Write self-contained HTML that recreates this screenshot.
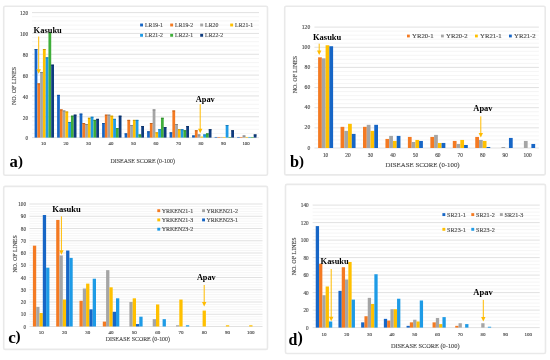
<!DOCTYPE html>
<html><head><meta charset="utf-8"><title>Disease score charts</title>
<style>
html,body{margin:0;padding:0;background:#fff;}
body{width:550px;height:360px;overflow:hidden;}
svg{display:block;font-family:"Liberation Serif",serif;filter:blur(0.3px);}
text.t{stroke:#4a4a4a;stroke-width:0.14px;}
</style></head><body>
<svg width="550" height="360" viewBox="0 0 550 360">
<rect width="550" height="360" fill="#fff"/>
<rect x="3.7" y="6.2" width="263.8" height="169.1" fill="#fff" stroke="#e9e9e9" stroke-width="1.6" rx="1.5"/>
<rect x="284.7" y="6.2" width="260.5" height="168.7" fill="#fff" stroke="#e9e9e9" stroke-width="1.6" rx="1.5"/>
<rect x="3.7" y="186.4" width="263.8" height="163" fill="#fff" stroke="#e9e9e9" stroke-width="1.6" rx="1.5"/>
<rect x="285.5" y="184.4" width="260" height="169.1" fill="#fff" stroke="#e9e9e9" stroke-width="1.6" rx="1.5"/>
<line x1="32" y1="133.43" x2="259" y2="133.43" stroke="#f3f3f3" stroke-width="0.8"/>
<line x1="32" y1="129.27" x2="259" y2="129.27" stroke="#f3f3f3" stroke-width="0.8"/>
<line x1="32" y1="125.1" x2="259" y2="125.1" stroke="#f3f3f3" stroke-width="0.8"/>
<line x1="32" y1="120.93" x2="259" y2="120.93" stroke="#f3f3f3" stroke-width="0.8"/>
<line x1="32" y1="112.6" x2="259" y2="112.6" stroke="#f3f3f3" stroke-width="0.8"/>
<line x1="32" y1="108.43" x2="259" y2="108.43" stroke="#f3f3f3" stroke-width="0.8"/>
<line x1="32" y1="104.27" x2="259" y2="104.27" stroke="#f3f3f3" stroke-width="0.8"/>
<line x1="32" y1="100.1" x2="259" y2="100.1" stroke="#f3f3f3" stroke-width="0.8"/>
<line x1="32" y1="91.77" x2="259" y2="91.77" stroke="#f3f3f3" stroke-width="0.8"/>
<line x1="32" y1="87.6" x2="259" y2="87.6" stroke="#f3f3f3" stroke-width="0.8"/>
<line x1="32" y1="83.43" x2="259" y2="83.43" stroke="#f3f3f3" stroke-width="0.8"/>
<line x1="32" y1="79.26" x2="259" y2="79.26" stroke="#f3f3f3" stroke-width="0.8"/>
<line x1="32" y1="70.93" x2="259" y2="70.93" stroke="#f3f3f3" stroke-width="0.8"/>
<line x1="32" y1="66.76" x2="259" y2="66.76" stroke="#f3f3f3" stroke-width="0.8"/>
<line x1="32" y1="62.6" x2="259" y2="62.6" stroke="#f3f3f3" stroke-width="0.8"/>
<line x1="32" y1="58.43" x2="259" y2="58.43" stroke="#f3f3f3" stroke-width="0.8"/>
<line x1="32" y1="50.1" x2="259" y2="50.1" stroke="#f3f3f3" stroke-width="0.8"/>
<line x1="32" y1="45.93" x2="259" y2="45.93" stroke="#f3f3f3" stroke-width="0.8"/>
<line x1="32" y1="41.76" x2="259" y2="41.76" stroke="#f3f3f3" stroke-width="0.8"/>
<line x1="32" y1="37.6" x2="259" y2="37.6" stroke="#f3f3f3" stroke-width="0.8"/>
<line x1="32" y1="29.26" x2="259" y2="29.26" stroke="#f3f3f3" stroke-width="0.8"/>
<line x1="32" y1="25.1" x2="259" y2="25.1" stroke="#f3f3f3" stroke-width="0.8"/>
<line x1="32" y1="20.93" x2="259" y2="20.93" stroke="#f3f3f3" stroke-width="0.8"/>
<line x1="32" y1="16.76" x2="259" y2="16.76" stroke="#f3f3f3" stroke-width="0.8"/>
<line x1="32" y1="137.6" x2="259" y2="137.6" stroke="#d9d9d9" stroke-width="0.8"/>
<line x1="32" y1="116.77" x2="259" y2="116.77" stroke="#d9d9d9" stroke-width="0.8"/>
<line x1="32" y1="95.93" x2="259" y2="95.93" stroke="#d9d9d9" stroke-width="0.8"/>
<line x1="32" y1="75.1" x2="259" y2="75.1" stroke="#d9d9d9" stroke-width="0.8"/>
<line x1="32" y1="54.26" x2="259" y2="54.26" stroke="#d9d9d9" stroke-width="0.8"/>
<line x1="32" y1="33.43" x2="259" y2="33.43" stroke="#d9d9d9" stroke-width="0.8"/>
<line x1="32" y1="12.6" x2="259" y2="12.6" stroke="#d9d9d9" stroke-width="0.8"/>
<rect x="34.6" y="49.06" width="2.77" height="88.54" fill="#1766c6"/>
<rect x="34.6" y="49.06" width="2.77" height="0.9" fill="#114f9a"/>
<rect x="57.1" y="94.89" width="2.77" height="42.71" fill="#1766c6"/>
<rect x="57.1" y="94.89" width="2.77" height="0.9" fill="#114f9a"/>
<rect x="79.6" y="113.64" width="2.77" height="23.96" fill="#1766c6"/>
<rect x="79.6" y="113.64" width="2.77" height="0.9" fill="#114f9a"/>
<rect x="102.1" y="123.02" width="2.77" height="14.58" fill="#1766c6"/>
<rect x="102.1" y="123.02" width="2.77" height="0.9" fill="#114f9a"/>
<rect x="124.61" y="133.43" width="2.77" height="4.17" fill="#1766c6"/>
<rect x="124.61" y="133.43" width="2.77" height="0.9" fill="#114f9a"/>
<rect x="147.11" y="131.35" width="2.77" height="6.25" fill="#1766c6"/>
<rect x="147.11" y="131.35" width="2.77" height="0.9" fill="#114f9a"/>
<rect x="169.61" y="132.39" width="2.77" height="5.21" fill="#1766c6"/>
<rect x="169.61" y="132.39" width="2.77" height="0.9" fill="#114f9a"/>
<rect x="192.11" y="135.52" width="2.77" height="2.08" fill="#1766c6"/>
<rect x="192.11" y="135.52" width="2.77" height="0.9" fill="#114f9a"/>
<rect x="214.61" y="136.97" width="2.77" height="0.63" fill="#1766c6"/>
<rect x="237.11" y="136.97" width="2.77" height="0.63" fill="#1766c6"/>
<rect x="37.38" y="83.43" width="2.77" height="54.17" fill="#f47a22"/>
<rect x="37.38" y="83.43" width="2.77" height="0.9" fill="#be5f1a"/>
<rect x="59.88" y="109.47" width="2.77" height="28.13" fill="#f47a22"/>
<rect x="59.88" y="109.47" width="2.77" height="0.9" fill="#be5f1a"/>
<rect x="82.37" y="123.02" width="2.77" height="14.58" fill="#f47a22"/>
<rect x="82.37" y="123.02" width="2.77" height="0.9" fill="#be5f1a"/>
<rect x="104.87" y="114.68" width="2.77" height="22.92" fill="#f47a22"/>
<rect x="104.87" y="114.68" width="2.77" height="0.9" fill="#be5f1a"/>
<rect x="127.38" y="119.89" width="2.77" height="17.71" fill="#f47a22"/>
<rect x="127.38" y="119.89" width="2.77" height="0.9" fill="#be5f1a"/>
<rect x="149.88" y="123.02" width="2.77" height="14.58" fill="#f47a22"/>
<rect x="149.88" y="123.02" width="2.77" height="0.9" fill="#be5f1a"/>
<rect x="172.38" y="110.52" width="2.77" height="27.08" fill="#f47a22"/>
<rect x="172.38" y="110.52" width="2.77" height="0.9" fill="#be5f1a"/>
<rect x="194.88" y="130.31" width="2.77" height="7.29" fill="#f47a22"/>
<rect x="194.88" y="130.31" width="2.77" height="0.9" fill="#be5f1a"/>
<rect x="217.38" y="136.97" width="2.77" height="0.63" fill="#f47a22"/>
<rect x="239.88" y="136.97" width="2.77" height="0.63" fill="#f47a22"/>
<rect x="40.14" y="71.97" width="2.77" height="65.63" fill="#a5a5a5"/>
<rect x="40.14" y="71.97" width="2.77" height="0.9" fill="#808080"/>
<rect x="62.64" y="110.52" width="2.77" height="27.08" fill="#a5a5a5"/>
<rect x="62.64" y="110.52" width="2.77" height="0.9" fill="#808080"/>
<rect x="85.14" y="124.06" width="2.77" height="13.54" fill="#a5a5a5"/>
<rect x="85.14" y="124.06" width="2.77" height="0.9" fill="#808080"/>
<rect x="107.64" y="114.68" width="2.77" height="22.92" fill="#a5a5a5"/>
<rect x="107.64" y="114.68" width="2.77" height="0.9" fill="#808080"/>
<rect x="130.15" y="125.1" width="2.77" height="12.5" fill="#a5a5a5"/>
<rect x="130.15" y="125.1" width="2.77" height="0.9" fill="#808080"/>
<rect x="152.65" y="109.47" width="2.77" height="28.13" fill="#a5a5a5"/>
<rect x="152.65" y="109.47" width="2.77" height="0.9" fill="#808080"/>
<rect x="175.15" y="124.06" width="2.77" height="13.54" fill="#a5a5a5"/>
<rect x="175.15" y="124.06" width="2.77" height="0.9" fill="#808080"/>
<rect x="197.65" y="134.47" width="2.77" height="3.13" fill="#a5a5a5"/>
<rect x="197.65" y="134.47" width="2.77" height="0.9" fill="#808080"/>
<rect x="220.15" y="136.97" width="2.77" height="0.63" fill="#a5a5a5"/>
<rect x="242.65" y="135.52" width="2.77" height="2.08" fill="#a5a5a5"/>
<rect x="242.65" y="135.52" width="2.77" height="0.9" fill="#808080"/>
<rect x="42.91" y="49.06" width="2.77" height="88.54" fill="#ffc000"/>
<rect x="42.91" y="49.06" width="2.77" height="0.9" fill="#c69500"/>
<rect x="65.41" y="111.56" width="2.77" height="26.04" fill="#ffc000"/>
<rect x="65.41" y="111.56" width="2.77" height="0.9" fill="#c69500"/>
<rect x="87.91" y="117.81" width="2.77" height="19.79" fill="#ffc000"/>
<rect x="87.91" y="117.81" width="2.77" height="0.9" fill="#c69500"/>
<rect x="110.41" y="115.72" width="2.77" height="21.88" fill="#ffc000"/>
<rect x="110.41" y="115.72" width="2.77" height="0.9" fill="#c69500"/>
<rect x="132.92" y="119.89" width="2.77" height="17.71" fill="#ffc000"/>
<rect x="132.92" y="119.89" width="2.77" height="0.9" fill="#c69500"/>
<rect x="155.42" y="132.39" width="2.77" height="5.21" fill="#ffc000"/>
<rect x="155.42" y="132.39" width="2.77" height="0.9" fill="#c69500"/>
<rect x="177.92" y="129.27" width="2.77" height="8.33" fill="#ffc000"/>
<rect x="177.92" y="129.27" width="2.77" height="0.9" fill="#c69500"/>
<rect x="200.42" y="136.56" width="2.77" height="1.04" fill="#ffc000"/>
<rect x="222.92" y="136.97" width="2.77" height="0.63" fill="#ffc000"/>
<rect x="245.42" y="136.97" width="2.77" height="0.63" fill="#ffc000"/>
<rect x="45.68" y="57.39" width="2.77" height="80.21" fill="#1e9be6"/>
<rect x="45.68" y="57.39" width="2.77" height="0.9" fill="#1778b3"/>
<rect x="68.19" y="121.97" width="2.77" height="15.63" fill="#1e9be6"/>
<rect x="68.19" y="121.97" width="2.77" height="0.9" fill="#1778b3"/>
<rect x="90.68" y="116.77" width="2.77" height="20.83" fill="#1e9be6"/>
<rect x="90.68" y="116.77" width="2.77" height="0.9" fill="#1778b3"/>
<rect x="113.18" y="118.85" width="2.77" height="18.75" fill="#1e9be6"/>
<rect x="113.18" y="118.85" width="2.77" height="0.9" fill="#1778b3"/>
<rect x="135.69" y="119.89" width="2.77" height="17.71" fill="#1e9be6"/>
<rect x="135.69" y="119.89" width="2.77" height="0.9" fill="#1778b3"/>
<rect x="158.19" y="129.27" width="2.77" height="8.33" fill="#1e9be6"/>
<rect x="158.19" y="129.27" width="2.77" height="0.9" fill="#1778b3"/>
<rect x="180.69" y="129.27" width="2.77" height="8.33" fill="#1e9be6"/>
<rect x="180.69" y="129.27" width="2.77" height="0.9" fill="#1778b3"/>
<rect x="203.19" y="134.47" width="2.77" height="3.13" fill="#1e9be6"/>
<rect x="203.19" y="134.47" width="2.77" height="0.9" fill="#1778b3"/>
<rect x="225.69" y="125.1" width="2.77" height="12.5" fill="#1e9be6"/>
<rect x="225.69" y="125.1" width="2.77" height="0.9" fill="#1778b3"/>
<rect x="248.19" y="136.97" width="2.77" height="0.63" fill="#1e9be6"/>
<rect x="48.45" y="32.39" width="2.77" height="105.21" fill="#3fae3a"/>
<rect x="48.45" y="32.39" width="2.77" height="0.9" fill="#31872d"/>
<rect x="70.95" y="115.72" width="2.77" height="21.88" fill="#3fae3a"/>
<rect x="70.95" y="115.72" width="2.77" height="0.9" fill="#31872d"/>
<rect x="93.45" y="119.89" width="2.77" height="17.71" fill="#3fae3a"/>
<rect x="93.45" y="119.89" width="2.77" height="0.9" fill="#31872d"/>
<rect x="115.95" y="128.22" width="2.77" height="9.38" fill="#3fae3a"/>
<rect x="115.95" y="128.22" width="2.77" height="0.9" fill="#31872d"/>
<rect x="138.46" y="134.47" width="2.77" height="3.13" fill="#3fae3a"/>
<rect x="138.46" y="134.47" width="2.77" height="0.9" fill="#31872d"/>
<rect x="160.96" y="117.81" width="2.77" height="19.79" fill="#3fae3a"/>
<rect x="160.96" y="117.81" width="2.77" height="0.9" fill="#31872d"/>
<rect x="183.46" y="130.31" width="2.77" height="7.29" fill="#3fae3a"/>
<rect x="183.46" y="130.31" width="2.77" height="0.9" fill="#31872d"/>
<rect x="205.96" y="133.43" width="2.77" height="4.17" fill="#3fae3a"/>
<rect x="205.96" y="133.43" width="2.77" height="0.9" fill="#31872d"/>
<rect x="228.46" y="136.97" width="2.77" height="0.63" fill="#3fae3a"/>
<rect x="250.96" y="136.97" width="2.77" height="0.63" fill="#3fae3a"/>
<rect x="51.22" y="64.68" width="2.77" height="72.92" fill="#0e3b7e"/>
<rect x="51.22" y="64.68" width="2.77" height="0.9" fill="#0a2e62"/>
<rect x="73.72" y="114.68" width="2.77" height="22.92" fill="#0e3b7e"/>
<rect x="73.72" y="114.68" width="2.77" height="0.9" fill="#0a2e62"/>
<rect x="96.22" y="118.85" width="2.77" height="18.75" fill="#0e3b7e"/>
<rect x="96.22" y="118.85" width="2.77" height="0.9" fill="#0a2e62"/>
<rect x="118.72" y="115.72" width="2.77" height="21.88" fill="#0e3b7e"/>
<rect x="118.72" y="115.72" width="2.77" height="0.9" fill="#0a2e62"/>
<rect x="141.23" y="126.14" width="2.77" height="11.46" fill="#0e3b7e"/>
<rect x="141.23" y="126.14" width="2.77" height="0.9" fill="#0a2e62"/>
<rect x="163.73" y="127.18" width="2.77" height="10.42" fill="#0e3b7e"/>
<rect x="163.73" y="127.18" width="2.77" height="0.9" fill="#0a2e62"/>
<rect x="186.23" y="126.14" width="2.77" height="11.46" fill="#0e3b7e"/>
<rect x="186.23" y="126.14" width="2.77" height="0.9" fill="#0a2e62"/>
<rect x="208.73" y="129.27" width="2.77" height="8.33" fill="#0e3b7e"/>
<rect x="208.73" y="129.27" width="2.77" height="0.9" fill="#0a2e62"/>
<rect x="231.23" y="130.31" width="2.77" height="7.29" fill="#0e3b7e"/>
<rect x="231.23" y="130.31" width="2.77" height="0.9" fill="#0a2e62"/>
<rect x="253.73" y="134.47" width="2.77" height="3.13" fill="#0e3b7e"/>
<rect x="253.73" y="134.47" width="2.77" height="0.9" fill="#0a2e62"/>
<text class="t" x="28.1" y="140.44" font-size="5.4" text-anchor="end" fill="#4a4a4a">0</text>
<text class="t" x="28.1" y="119.6" font-size="5.4" text-anchor="end" fill="#4a4a4a">20</text>
<text class="t" x="28.1" y="98.77" font-size="5.4" text-anchor="end" fill="#4a4a4a">40</text>
<text class="t" x="28.1" y="77.93" font-size="5.4" text-anchor="end" fill="#4a4a4a">60</text>
<text class="t" x="28.1" y="57.1" font-size="5.4" text-anchor="end" fill="#4a4a4a">80</text>
<text class="t" x="28.1" y="36.27" font-size="5.4" text-anchor="end" fill="#4a4a4a">100</text>
<text class="t" x="28.1" y="15.43" font-size="5.4" text-anchor="end" fill="#4a4a4a">120</text>
<text class="t" x="43.5" y="145.1" font-size="4.8" text-anchor="middle" fill="#4a4a4a">10</text>
<text class="t" x="66" y="145.1" font-size="4.8" text-anchor="middle" fill="#4a4a4a">20</text>
<text class="t" x="88.5" y="145.1" font-size="4.8" text-anchor="middle" fill="#4a4a4a">30</text>
<text class="t" x="111" y="145.1" font-size="4.8" text-anchor="middle" fill="#4a4a4a">40</text>
<text class="t" x="133.5" y="145.1" font-size="4.8" text-anchor="middle" fill="#4a4a4a">50</text>
<text class="t" x="156" y="145.1" font-size="4.8" text-anchor="middle" fill="#4a4a4a">60</text>
<text class="t" x="178.5" y="145.1" font-size="4.8" text-anchor="middle" fill="#4a4a4a">70</text>
<text class="t" x="201" y="145.1" font-size="4.8" text-anchor="middle" fill="#4a4a4a">80</text>
<text class="t" x="223.5" y="145.1" font-size="4.8" text-anchor="middle" fill="#4a4a4a">90</text>
<text class="t" x="246" y="145.1" font-size="4.8" text-anchor="middle" fill="#4a4a4a">100</text>
<line x1="314.4" y1="143.97" x2="538.9" y2="143.97" stroke="#f3f3f3" stroke-width="0.8"/>
<line x1="314.4" y1="139.94" x2="538.9" y2="139.94" stroke="#f3f3f3" stroke-width="0.8"/>
<line x1="314.4" y1="135.91" x2="538.9" y2="135.91" stroke="#f3f3f3" stroke-width="0.8"/>
<line x1="314.4" y1="131.88" x2="538.9" y2="131.88" stroke="#f3f3f3" stroke-width="0.8"/>
<line x1="314.4" y1="123.82" x2="538.9" y2="123.82" stroke="#f3f3f3" stroke-width="0.8"/>
<line x1="314.4" y1="119.79" x2="538.9" y2="119.79" stroke="#f3f3f3" stroke-width="0.8"/>
<line x1="314.4" y1="115.76" x2="538.9" y2="115.76" stroke="#f3f3f3" stroke-width="0.8"/>
<line x1="314.4" y1="111.73" x2="538.9" y2="111.73" stroke="#f3f3f3" stroke-width="0.8"/>
<line x1="314.4" y1="103.67" x2="538.9" y2="103.67" stroke="#f3f3f3" stroke-width="0.8"/>
<line x1="314.4" y1="99.64" x2="538.9" y2="99.64" stroke="#f3f3f3" stroke-width="0.8"/>
<line x1="314.4" y1="95.61" x2="538.9" y2="95.61" stroke="#f3f3f3" stroke-width="0.8"/>
<line x1="314.4" y1="91.58" x2="538.9" y2="91.58" stroke="#f3f3f3" stroke-width="0.8"/>
<line x1="314.4" y1="83.52" x2="538.9" y2="83.52" stroke="#f3f3f3" stroke-width="0.8"/>
<line x1="314.4" y1="79.49" x2="538.9" y2="79.49" stroke="#f3f3f3" stroke-width="0.8"/>
<line x1="314.4" y1="75.46" x2="538.9" y2="75.46" stroke="#f3f3f3" stroke-width="0.8"/>
<line x1="314.4" y1="71.43" x2="538.9" y2="71.43" stroke="#f3f3f3" stroke-width="0.8"/>
<line x1="314.4" y1="63.37" x2="538.9" y2="63.37" stroke="#f3f3f3" stroke-width="0.8"/>
<line x1="314.4" y1="59.34" x2="538.9" y2="59.34" stroke="#f3f3f3" stroke-width="0.8"/>
<line x1="314.4" y1="55.31" x2="538.9" y2="55.31" stroke="#f3f3f3" stroke-width="0.8"/>
<line x1="314.4" y1="51.28" x2="538.9" y2="51.28" stroke="#f3f3f3" stroke-width="0.8"/>
<line x1="314.4" y1="43.22" x2="538.9" y2="43.22" stroke="#f3f3f3" stroke-width="0.8"/>
<line x1="314.4" y1="39.19" x2="538.9" y2="39.19" stroke="#f3f3f3" stroke-width="0.8"/>
<line x1="314.4" y1="35.16" x2="538.9" y2="35.16" stroke="#f3f3f3" stroke-width="0.8"/>
<line x1="314.4" y1="31.13" x2="538.9" y2="31.13" stroke="#f3f3f3" stroke-width="0.8"/>
<line x1="314.4" y1="148" x2="538.9" y2="148" stroke="#d9d9d9" stroke-width="0.8"/>
<line x1="314.4" y1="127.85" x2="538.9" y2="127.85" stroke="#d9d9d9" stroke-width="0.8"/>
<line x1="314.4" y1="107.7" x2="538.9" y2="107.7" stroke="#d9d9d9" stroke-width="0.8"/>
<line x1="314.4" y1="87.55" x2="538.9" y2="87.55" stroke="#d9d9d9" stroke-width="0.8"/>
<line x1="314.4" y1="67.4" x2="538.9" y2="67.4" stroke="#d9d9d9" stroke-width="0.8"/>
<line x1="314.4" y1="47.25" x2="538.9" y2="47.25" stroke="#d9d9d9" stroke-width="0.8"/>
<line x1="314.4" y1="27.1" x2="538.9" y2="27.1" stroke="#d9d9d9" stroke-width="0.8"/>
<rect x="318.1" y="57.32" width="3.75" height="90.68" fill="#f47a22"/>
<rect x="340.55" y="126.84" width="3.75" height="21.16" fill="#f47a22"/>
<rect x="363" y="126.84" width="3.75" height="21.16" fill="#f47a22"/>
<rect x="385.45" y="138.93" width="3.75" height="9.07" fill="#f47a22"/>
<rect x="407.9" y="136.92" width="3.75" height="11.08" fill="#f47a22"/>
<rect x="430.35" y="136.92" width="3.75" height="11.08" fill="#f47a22"/>
<rect x="452.8" y="140.95" width="3.75" height="7.05" fill="#f47a22"/>
<rect x="475.25" y="136.92" width="3.75" height="11.08" fill="#f47a22"/>
<rect x="321.85" y="58.33" width="3.75" height="89.67" fill="#a5a5a5"/>
<rect x="344.3" y="130.87" width="3.75" height="17.13" fill="#a5a5a5"/>
<rect x="366.75" y="124.83" width="3.75" height="23.17" fill="#a5a5a5"/>
<rect x="389.2" y="135.91" width="3.75" height="12.09" fill="#a5a5a5"/>
<rect x="411.65" y="141.96" width="3.75" height="6.04" fill="#a5a5a5"/>
<rect x="434.1" y="134.9" width="3.75" height="13.1" fill="#a5a5a5"/>
<rect x="456.55" y="143.97" width="3.75" height="4.03" fill="#a5a5a5"/>
<rect x="479" y="139.94" width="3.75" height="8.06" fill="#a5a5a5"/>
<rect x="501.45" y="146.99" width="3.75" height="1.01" fill="#a5a5a5"/>
<rect x="523.9" y="140.95" width="3.75" height="7.05" fill="#a5a5a5"/>
<rect x="325.6" y="45.23" width="3.75" height="102.77" fill="#ffc000"/>
<rect x="348.05" y="123.82" width="3.75" height="24.18" fill="#ffc000"/>
<rect x="370.5" y="130.87" width="3.75" height="17.13" fill="#ffc000"/>
<rect x="392.95" y="140.95" width="3.75" height="7.05" fill="#ffc000"/>
<rect x="415.4" y="139.94" width="3.75" height="8.06" fill="#ffc000"/>
<rect x="437.85" y="142.96" width="3.75" height="5.04" fill="#ffc000"/>
<rect x="460.3" y="139.94" width="3.75" height="8.06" fill="#ffc000"/>
<rect x="482.75" y="140.95" width="3.75" height="7.05" fill="#ffc000"/>
<rect x="329.35" y="46.24" width="3.75" height="101.76" fill="#1766c6"/>
<rect x="351.8" y="133.9" width="3.75" height="14.11" fill="#1766c6"/>
<rect x="374.25" y="124.83" width="3.75" height="23.17" fill="#1766c6"/>
<rect x="396.7" y="135.91" width="3.75" height="12.09" fill="#1766c6"/>
<rect x="419.15" y="140.95" width="3.75" height="7.05" fill="#1766c6"/>
<rect x="441.6" y="142.96" width="3.75" height="5.04" fill="#1766c6"/>
<rect x="464.05" y="144.98" width="3.75" height="3.02" fill="#1766c6"/>
<rect x="486.5" y="146.99" width="3.75" height="1.01" fill="#1766c6"/>
<rect x="508.95" y="137.93" width="3.75" height="10.08" fill="#1766c6"/>
<rect x="531.4" y="143.97" width="3.75" height="4.03" fill="#1766c6"/>
<text class="t" x="310.2" y="149.6" font-size="5.6" text-anchor="end" fill="#4a4a4a">0</text>
<text class="t" x="310.2" y="129.45" font-size="5.6" text-anchor="end" fill="#4a4a4a">20</text>
<text class="t" x="310.2" y="109.3" font-size="5.6" text-anchor="end" fill="#4a4a4a">40</text>
<text class="t" x="310.2" y="89.15" font-size="5.6" text-anchor="end" fill="#4a4a4a">60</text>
<text class="t" x="310.2" y="69" font-size="5.6" text-anchor="end" fill="#4a4a4a">80</text>
<text class="t" x="310.2" y="48.85" font-size="5.6" text-anchor="end" fill="#4a4a4a">100</text>
<text class="t" x="310.2" y="28.7" font-size="5.6" text-anchor="end" fill="#4a4a4a">120</text>
<text class="t" x="325.6" y="157" font-size="5.4" text-anchor="middle" fill="#4a4a4a">10</text>
<text class="t" x="348.05" y="157" font-size="5.4" text-anchor="middle" fill="#4a4a4a">20</text>
<text class="t" x="370.5" y="157" font-size="5.4" text-anchor="middle" fill="#4a4a4a">30</text>
<text class="t" x="392.95" y="157" font-size="5.4" text-anchor="middle" fill="#4a4a4a">40</text>
<text class="t" x="415.4" y="157" font-size="5.4" text-anchor="middle" fill="#4a4a4a">50</text>
<text class="t" x="437.85" y="157" font-size="5.4" text-anchor="middle" fill="#4a4a4a">60</text>
<text class="t" x="460.3" y="157" font-size="5.4" text-anchor="middle" fill="#4a4a4a">70</text>
<text class="t" x="482.75" y="157" font-size="5.4" text-anchor="middle" fill="#4a4a4a">80</text>
<text class="t" x="505.2" y="157" font-size="5.4" text-anchor="middle" fill="#4a4a4a">90</text>
<text class="t" x="527.65" y="157" font-size="5.4" text-anchor="middle" fill="#4a4a4a">100</text>
<line x1="29.5" y1="324.05" x2="262.5" y2="324.05" stroke="#f3f3f3" stroke-width="0.8"/>
<line x1="29.5" y1="321.6" x2="262.5" y2="321.6" stroke="#f3f3f3" stroke-width="0.8"/>
<line x1="29.5" y1="319.15" x2="262.5" y2="319.15" stroke="#f3f3f3" stroke-width="0.8"/>
<line x1="29.5" y1="316.7" x2="262.5" y2="316.7" stroke="#f3f3f3" stroke-width="0.8"/>
<line x1="29.5" y1="311.8" x2="262.5" y2="311.8" stroke="#f3f3f3" stroke-width="0.8"/>
<line x1="29.5" y1="309.35" x2="262.5" y2="309.35" stroke="#f3f3f3" stroke-width="0.8"/>
<line x1="29.5" y1="306.9" x2="262.5" y2="306.9" stroke="#f3f3f3" stroke-width="0.8"/>
<line x1="29.5" y1="304.45" x2="262.5" y2="304.45" stroke="#f3f3f3" stroke-width="0.8"/>
<line x1="29.5" y1="299.55" x2="262.5" y2="299.55" stroke="#f3f3f3" stroke-width="0.8"/>
<line x1="29.5" y1="297.1" x2="262.5" y2="297.1" stroke="#f3f3f3" stroke-width="0.8"/>
<line x1="29.5" y1="294.65" x2="262.5" y2="294.65" stroke="#f3f3f3" stroke-width="0.8"/>
<line x1="29.5" y1="292.2" x2="262.5" y2="292.2" stroke="#f3f3f3" stroke-width="0.8"/>
<line x1="29.5" y1="287.3" x2="262.5" y2="287.3" stroke="#f3f3f3" stroke-width="0.8"/>
<line x1="29.5" y1="284.85" x2="262.5" y2="284.85" stroke="#f3f3f3" stroke-width="0.8"/>
<line x1="29.5" y1="282.4" x2="262.5" y2="282.4" stroke="#f3f3f3" stroke-width="0.8"/>
<line x1="29.5" y1="279.95" x2="262.5" y2="279.95" stroke="#f3f3f3" stroke-width="0.8"/>
<line x1="29.5" y1="275.05" x2="262.5" y2="275.05" stroke="#f3f3f3" stroke-width="0.8"/>
<line x1="29.5" y1="272.6" x2="262.5" y2="272.6" stroke="#f3f3f3" stroke-width="0.8"/>
<line x1="29.5" y1="270.15" x2="262.5" y2="270.15" stroke="#f3f3f3" stroke-width="0.8"/>
<line x1="29.5" y1="267.7" x2="262.5" y2="267.7" stroke="#f3f3f3" stroke-width="0.8"/>
<line x1="29.5" y1="262.8" x2="262.5" y2="262.8" stroke="#f3f3f3" stroke-width="0.8"/>
<line x1="29.5" y1="260.35" x2="262.5" y2="260.35" stroke="#f3f3f3" stroke-width="0.8"/>
<line x1="29.5" y1="257.9" x2="262.5" y2="257.9" stroke="#f3f3f3" stroke-width="0.8"/>
<line x1="29.5" y1="255.45" x2="262.5" y2="255.45" stroke="#f3f3f3" stroke-width="0.8"/>
<line x1="29.5" y1="250.55" x2="262.5" y2="250.55" stroke="#f3f3f3" stroke-width="0.8"/>
<line x1="29.5" y1="248.1" x2="262.5" y2="248.1" stroke="#f3f3f3" stroke-width="0.8"/>
<line x1="29.5" y1="245.65" x2="262.5" y2="245.65" stroke="#f3f3f3" stroke-width="0.8"/>
<line x1="29.5" y1="243.2" x2="262.5" y2="243.2" stroke="#f3f3f3" stroke-width="0.8"/>
<line x1="29.5" y1="238.3" x2="262.5" y2="238.3" stroke="#f3f3f3" stroke-width="0.8"/>
<line x1="29.5" y1="235.85" x2="262.5" y2="235.85" stroke="#f3f3f3" stroke-width="0.8"/>
<line x1="29.5" y1="233.4" x2="262.5" y2="233.4" stroke="#f3f3f3" stroke-width="0.8"/>
<line x1="29.5" y1="230.95" x2="262.5" y2="230.95" stroke="#f3f3f3" stroke-width="0.8"/>
<line x1="29.5" y1="226.05" x2="262.5" y2="226.05" stroke="#f3f3f3" stroke-width="0.8"/>
<line x1="29.5" y1="223.6" x2="262.5" y2="223.6" stroke="#f3f3f3" stroke-width="0.8"/>
<line x1="29.5" y1="221.15" x2="262.5" y2="221.15" stroke="#f3f3f3" stroke-width="0.8"/>
<line x1="29.5" y1="218.7" x2="262.5" y2="218.7" stroke="#f3f3f3" stroke-width="0.8"/>
<line x1="29.5" y1="213.8" x2="262.5" y2="213.8" stroke="#f3f3f3" stroke-width="0.8"/>
<line x1="29.5" y1="211.35" x2="262.5" y2="211.35" stroke="#f3f3f3" stroke-width="0.8"/>
<line x1="29.5" y1="208.9" x2="262.5" y2="208.9" stroke="#f3f3f3" stroke-width="0.8"/>
<line x1="29.5" y1="206.45" x2="262.5" y2="206.45" stroke="#f3f3f3" stroke-width="0.8"/>
<line x1="29.5" y1="326.5" x2="262.5" y2="326.5" stroke="#d9d9d9" stroke-width="0.8"/>
<line x1="29.5" y1="314.25" x2="262.5" y2="314.25" stroke="#d9d9d9" stroke-width="0.8"/>
<line x1="29.5" y1="302" x2="262.5" y2="302" stroke="#d9d9d9" stroke-width="0.8"/>
<line x1="29.5" y1="289.75" x2="262.5" y2="289.75" stroke="#d9d9d9" stroke-width="0.8"/>
<line x1="29.5" y1="277.5" x2="262.5" y2="277.5" stroke="#d9d9d9" stroke-width="0.8"/>
<line x1="29.5" y1="265.25" x2="262.5" y2="265.25" stroke="#d9d9d9" stroke-width="0.8"/>
<line x1="29.5" y1="253" x2="262.5" y2="253" stroke="#d9d9d9" stroke-width="0.8"/>
<line x1="29.5" y1="240.75" x2="262.5" y2="240.75" stroke="#d9d9d9" stroke-width="0.8"/>
<line x1="29.5" y1="228.5" x2="262.5" y2="228.5" stroke="#d9d9d9" stroke-width="0.8"/>
<line x1="29.5" y1="216.25" x2="262.5" y2="216.25" stroke="#d9d9d9" stroke-width="0.8"/>
<line x1="29.5" y1="204" x2="262.5" y2="204" stroke="#d9d9d9" stroke-width="0.8"/>
<rect x="32.9" y="245.65" width="3.3" height="80.85" fill="#f47a22"/>
<rect x="56.2" y="219.93" width="3.3" height="106.58" fill="#f47a22"/>
<rect x="79.5" y="300.77" width="3.3" height="25.73" fill="#f47a22"/>
<rect x="102.8" y="321.6" width="3.3" height="4.9" fill="#f47a22"/>
<rect x="36.2" y="306.9" width="3.3" height="19.6" fill="#a5a5a5"/>
<rect x="59.5" y="255.45" width="3.3" height="71.05" fill="#a5a5a5"/>
<rect x="82.8" y="288.52" width="3.3" height="37.98" fill="#a5a5a5"/>
<rect x="106.1" y="270.15" width="3.3" height="56.35" fill="#a5a5a5"/>
<rect x="129.4" y="302" width="3.3" height="24.5" fill="#a5a5a5"/>
<rect x="152.7" y="319.15" width="3.3" height="7.35" fill="#a5a5a5"/>
<rect x="176" y="325.27" width="3.3" height="1.23" fill="#a5a5a5"/>
<rect x="39.5" y="313.02" width="3.3" height="13.48" fill="#ffc000"/>
<rect x="62.8" y="299.55" width="3.3" height="26.95" fill="#ffc000"/>
<rect x="86.1" y="283.62" width="3.3" height="42.88" fill="#ffc000"/>
<rect x="109.4" y="287.3" width="3.3" height="39.2" fill="#ffc000"/>
<rect x="132.7" y="298.32" width="3.3" height="28.18" fill="#ffc000"/>
<rect x="156" y="304.45" width="3.3" height="22.05" fill="#ffc000"/>
<rect x="179.3" y="299.55" width="3.3" height="26.95" fill="#ffc000"/>
<rect x="202.6" y="310.57" width="3.3" height="15.93" fill="#ffc000"/>
<rect x="225.9" y="325.27" width="3.3" height="1.23" fill="#ffc000"/>
<rect x="249.2" y="325.27" width="3.3" height="1.23" fill="#ffc000"/>
<rect x="42.8" y="215.02" width="3.3" height="111.48" fill="#1766c6"/>
<rect x="66.1" y="250.55" width="3.3" height="75.95" fill="#1766c6"/>
<rect x="89.4" y="309.35" width="3.3" height="17.15" fill="#1766c6"/>
<rect x="112.7" y="311.8" width="3.3" height="14.7" fill="#1766c6"/>
<rect x="136" y="324.05" width="3.3" height="2.45" fill="#1766c6"/>
<rect x="46.1" y="267.7" width="3.3" height="58.8" fill="#1e9be6"/>
<rect x="69.4" y="257.9" width="3.3" height="68.6" fill="#1e9be6"/>
<rect x="92.7" y="278.73" width="3.3" height="47.78" fill="#1e9be6"/>
<rect x="116" y="298.32" width="3.3" height="28.18" fill="#1e9be6"/>
<rect x="139.3" y="316.7" width="3.3" height="9.8" fill="#1e9be6"/>
<rect x="162.6" y="319.15" width="3.3" height="7.35" fill="#1e9be6"/>
<rect x="185.9" y="325.27" width="3.3" height="1.23" fill="#1e9be6"/>
<text class="t" x="26" y="328.67" font-size="5.2" text-anchor="end" fill="#4a4a4a">0</text>
<text class="t" x="26" y="316.42" font-size="5.2" text-anchor="end" fill="#4a4a4a">10</text>
<text class="t" x="26" y="304.17" font-size="5.2" text-anchor="end" fill="#4a4a4a">20</text>
<text class="t" x="26" y="291.92" font-size="5.2" text-anchor="end" fill="#4a4a4a">30</text>
<text class="t" x="26" y="279.67" font-size="5.2" text-anchor="end" fill="#4a4a4a">40</text>
<text class="t" x="26" y="267.42" font-size="5.2" text-anchor="end" fill="#4a4a4a">50</text>
<text class="t" x="26" y="255.17" font-size="5.2" text-anchor="end" fill="#4a4a4a">60</text>
<text class="t" x="26" y="242.92" font-size="5.2" text-anchor="end" fill="#4a4a4a">70</text>
<text class="t" x="26" y="230.67" font-size="5.2" text-anchor="end" fill="#4a4a4a">80</text>
<text class="t" x="26" y="218.42" font-size="5.2" text-anchor="end" fill="#4a4a4a">90</text>
<text class="t" x="26" y="206.17" font-size="5.2" text-anchor="end" fill="#4a4a4a">100</text>
<text class="t" x="41.15" y="334" font-size="5" text-anchor="middle" fill="#4a4a4a">10</text>
<text class="t" x="64.45" y="334" font-size="5" text-anchor="middle" fill="#4a4a4a">20</text>
<text class="t" x="87.75" y="334" font-size="5" text-anchor="middle" fill="#4a4a4a">30</text>
<text class="t" x="111.05" y="334" font-size="5" text-anchor="middle" fill="#4a4a4a">40</text>
<text class="t" x="134.35" y="334" font-size="5" text-anchor="middle" fill="#4a4a4a">50</text>
<text class="t" x="157.65" y="334" font-size="5" text-anchor="middle" fill="#4a4a4a">60</text>
<text class="t" x="180.95" y="334" font-size="5" text-anchor="middle" fill="#4a4a4a">70</text>
<text class="t" x="204.25" y="334" font-size="5" text-anchor="middle" fill="#4a4a4a">80</text>
<text class="t" x="227.55" y="334" font-size="5" text-anchor="middle" fill="#4a4a4a">90</text>
<text class="t" x="250.85" y="334" font-size="5" text-anchor="middle" fill="#4a4a4a">100</text>
<line x1="312.65" y1="324.1" x2="539.7" y2="324.1" stroke="#f3f3f3" stroke-width="0.8"/>
<line x1="312.65" y1="320.6" x2="539.7" y2="320.6" stroke="#f3f3f3" stroke-width="0.8"/>
<line x1="312.65" y1="317.1" x2="539.7" y2="317.1" stroke="#f3f3f3" stroke-width="0.8"/>
<line x1="312.65" y1="313.6" x2="539.7" y2="313.6" stroke="#f3f3f3" stroke-width="0.8"/>
<line x1="312.65" y1="306.6" x2="539.7" y2="306.6" stroke="#f3f3f3" stroke-width="0.8"/>
<line x1="312.65" y1="303.1" x2="539.7" y2="303.1" stroke="#f3f3f3" stroke-width="0.8"/>
<line x1="312.65" y1="299.6" x2="539.7" y2="299.6" stroke="#f3f3f3" stroke-width="0.8"/>
<line x1="312.65" y1="296.1" x2="539.7" y2="296.1" stroke="#f3f3f3" stroke-width="0.8"/>
<line x1="312.65" y1="289.1" x2="539.7" y2="289.1" stroke="#f3f3f3" stroke-width="0.8"/>
<line x1="312.65" y1="285.6" x2="539.7" y2="285.6" stroke="#f3f3f3" stroke-width="0.8"/>
<line x1="312.65" y1="282.1" x2="539.7" y2="282.1" stroke="#f3f3f3" stroke-width="0.8"/>
<line x1="312.65" y1="278.6" x2="539.7" y2="278.6" stroke="#f3f3f3" stroke-width="0.8"/>
<line x1="312.65" y1="271.6" x2="539.7" y2="271.6" stroke="#f3f3f3" stroke-width="0.8"/>
<line x1="312.65" y1="268.1" x2="539.7" y2="268.1" stroke="#f3f3f3" stroke-width="0.8"/>
<line x1="312.65" y1="264.6" x2="539.7" y2="264.6" stroke="#f3f3f3" stroke-width="0.8"/>
<line x1="312.65" y1="261.1" x2="539.7" y2="261.1" stroke="#f3f3f3" stroke-width="0.8"/>
<line x1="312.65" y1="254.1" x2="539.7" y2="254.1" stroke="#f3f3f3" stroke-width="0.8"/>
<line x1="312.65" y1="250.6" x2="539.7" y2="250.6" stroke="#f3f3f3" stroke-width="0.8"/>
<line x1="312.65" y1="247.1" x2="539.7" y2="247.1" stroke="#f3f3f3" stroke-width="0.8"/>
<line x1="312.65" y1="243.6" x2="539.7" y2="243.6" stroke="#f3f3f3" stroke-width="0.8"/>
<line x1="312.65" y1="236.6" x2="539.7" y2="236.6" stroke="#f3f3f3" stroke-width="0.8"/>
<line x1="312.65" y1="233.1" x2="539.7" y2="233.1" stroke="#f3f3f3" stroke-width="0.8"/>
<line x1="312.65" y1="229.6" x2="539.7" y2="229.6" stroke="#f3f3f3" stroke-width="0.8"/>
<line x1="312.65" y1="226.1" x2="539.7" y2="226.1" stroke="#f3f3f3" stroke-width="0.8"/>
<line x1="312.65" y1="219.1" x2="539.7" y2="219.1" stroke="#f3f3f3" stroke-width="0.8"/>
<line x1="312.65" y1="215.6" x2="539.7" y2="215.6" stroke="#f3f3f3" stroke-width="0.8"/>
<line x1="312.65" y1="212.1" x2="539.7" y2="212.1" stroke="#f3f3f3" stroke-width="0.8"/>
<line x1="312.65" y1="208.6" x2="539.7" y2="208.6" stroke="#f3f3f3" stroke-width="0.8"/>
<line x1="312.65" y1="327.6" x2="539.7" y2="327.6" stroke="#d9d9d9" stroke-width="0.8"/>
<line x1="312.65" y1="310.1" x2="539.7" y2="310.1" stroke="#d9d9d9" stroke-width="0.8"/>
<line x1="312.65" y1="292.6" x2="539.7" y2="292.6" stroke="#d9d9d9" stroke-width="0.8"/>
<line x1="312.65" y1="275.1" x2="539.7" y2="275.1" stroke="#d9d9d9" stroke-width="0.8"/>
<line x1="312.65" y1="257.6" x2="539.7" y2="257.6" stroke="#d9d9d9" stroke-width="0.8"/>
<line x1="312.65" y1="240.1" x2="539.7" y2="240.1" stroke="#d9d9d9" stroke-width="0.8"/>
<line x1="312.65" y1="222.6" x2="539.7" y2="222.6" stroke="#d9d9d9" stroke-width="0.8"/>
<line x1="312.65" y1="205.1" x2="539.7" y2="205.1" stroke="#d9d9d9" stroke-width="0.8"/>
<rect x="315.75" y="226.1" width="3.3" height="101.5" fill="#1766c6"/>
<rect x="338.45" y="290.85" width="3.3" height="36.75" fill="#1766c6"/>
<rect x="361.15" y="322.35" width="3.3" height="5.25" fill="#1766c6"/>
<rect x="383.85" y="318.85" width="3.3" height="8.75" fill="#1766c6"/>
<rect x="406.55" y="325.85" width="3.3" height="1.75" fill="#1766c6"/>
<rect x="319.05" y="263.73" width="3.3" height="63.88" fill="#f47a22"/>
<rect x="341.75" y="267.23" width="3.3" height="60.38" fill="#f47a22"/>
<rect x="364.45" y="316.23" width="3.3" height="11.38" fill="#f47a22"/>
<rect x="387.15" y="320.6" width="3.3" height="7" fill="#f47a22"/>
<rect x="409.85" y="322.35" width="3.3" height="5.25" fill="#f47a22"/>
<rect x="432.55" y="322.35" width="3.3" height="5.25" fill="#f47a22"/>
<rect x="455.25" y="325.85" width="3.3" height="1.75" fill="#f47a22"/>
<rect x="322.35" y="295.23" width="3.3" height="32.38" fill="#a5a5a5"/>
<rect x="345.05" y="279.48" width="3.3" height="48.12" fill="#a5a5a5"/>
<rect x="367.75" y="297.85" width="3.3" height="29.75" fill="#a5a5a5"/>
<rect x="390.45" y="309.23" width="3.3" height="18.38" fill="#a5a5a5"/>
<rect x="413.15" y="319.73" width="3.3" height="7.88" fill="#a5a5a5"/>
<rect x="435.85" y="317.98" width="3.3" height="9.62" fill="#a5a5a5"/>
<rect x="458.55" y="323.23" width="3.3" height="4.38" fill="#a5a5a5"/>
<rect x="481.25" y="323.23" width="3.3" height="4.38" fill="#a5a5a5"/>
<rect x="325.65" y="286.48" width="3.3" height="41.12" fill="#ffc000"/>
<rect x="348.35" y="261.98" width="3.3" height="65.62" fill="#ffc000"/>
<rect x="371.05" y="303.98" width="3.3" height="23.62" fill="#ffc000"/>
<rect x="393.75" y="309.23" width="3.3" height="18.38" fill="#ffc000"/>
<rect x="416.45" y="321.48" width="3.3" height="6.12" fill="#ffc000"/>
<rect x="439.15" y="324.1" width="3.3" height="3.5" fill="#ffc000"/>
<rect x="328.95" y="321.48" width="3.3" height="6.12" fill="#1e9be6"/>
<rect x="351.65" y="299.6" width="3.3" height="28" fill="#1e9be6"/>
<rect x="374.35" y="274.23" width="3.3" height="53.38" fill="#1e9be6"/>
<rect x="397.05" y="298.73" width="3.3" height="28.88" fill="#1e9be6"/>
<rect x="419.75" y="300.48" width="3.3" height="27.12" fill="#1e9be6"/>
<rect x="442.45" y="317.1" width="3.3" height="10.5" fill="#1e9be6"/>
<rect x="465.15" y="324.1" width="3.3" height="3.5" fill="#1e9be6"/>
<rect x="487.85" y="326.73" width="3.3" height="0.88" fill="#1e9be6"/>
<text class="t" x="308.6" y="329.67" font-size="5.2" text-anchor="end" fill="#4a4a4a">0</text>
<text class="t" x="308.6" y="312.17" font-size="5.2" text-anchor="end" fill="#4a4a4a">20</text>
<text class="t" x="308.6" y="294.67" font-size="5.2" text-anchor="end" fill="#4a4a4a">40</text>
<text class="t" x="308.6" y="277.17" font-size="5.2" text-anchor="end" fill="#4a4a4a">60</text>
<text class="t" x="308.6" y="259.67" font-size="5.2" text-anchor="end" fill="#4a4a4a">80</text>
<text class="t" x="308.6" y="242.17" font-size="5.2" text-anchor="end" fill="#4a4a4a">100</text>
<text class="t" x="308.6" y="224.67" font-size="5.2" text-anchor="end" fill="#4a4a4a">120</text>
<text class="t" x="308.6" y="207.17" font-size="5.2" text-anchor="end" fill="#4a4a4a">140</text>
<text class="t" x="324" y="335.8" font-size="5" text-anchor="middle" fill="#4a4a4a">10</text>
<text class="t" x="346.7" y="335.8" font-size="5" text-anchor="middle" fill="#4a4a4a">20</text>
<text class="t" x="369.4" y="335.8" font-size="5" text-anchor="middle" fill="#4a4a4a">30</text>
<text class="t" x="392.1" y="335.8" font-size="5" text-anchor="middle" fill="#4a4a4a">40</text>
<text class="t" x="414.8" y="335.8" font-size="5" text-anchor="middle" fill="#4a4a4a">50</text>
<text class="t" x="437.5" y="335.8" font-size="5" text-anchor="middle" fill="#4a4a4a">60</text>
<text class="t" x="460.2" y="335.8" font-size="5" text-anchor="middle" fill="#4a4a4a">70</text>
<text class="t" x="482.9" y="335.8" font-size="5" text-anchor="middle" fill="#4a4a4a">80</text>
<text class="t" x="505.6" y="335.8" font-size="5" text-anchor="middle" fill="#4a4a4a">90</text>
<text class="t" x="528.3" y="335.8" font-size="5" text-anchor="middle" fill="#4a4a4a">100</text>
<rect x="140.1" y="23.55" width="2.9" height="2.9" fill="#1766c6"/>
<text class="t" x="145" y="27.11" font-size="6.2" fill="#4a4a4a" textLength="18" lengthAdjust="spacingAndGlyphs">LR19-1</text>
<rect x="170.2" y="23.55" width="2.9" height="2.9" fill="#f47a22"/>
<text class="t" x="175.1" y="27.11" font-size="6.2" fill="#4a4a4a" textLength="18" lengthAdjust="spacingAndGlyphs">LR19-2</text>
<rect x="200.2" y="23.55" width="2.9" height="2.9" fill="#a5a5a5"/>
<text class="t" x="205.1" y="27.11" font-size="6.2" fill="#4a4a4a" textLength="13.3" lengthAdjust="spacingAndGlyphs">LR20</text>
<rect x="230.2" y="23.55" width="2.9" height="2.9" fill="#ffc000"/>
<text class="t" x="235.1" y="27.11" font-size="6.2" fill="#4a4a4a" textLength="18" lengthAdjust="spacingAndGlyphs">LR21-1</text>
<rect x="140.1" y="33.85" width="2.9" height="2.9" fill="#1e9be6"/>
<text class="t" x="145" y="37.41" font-size="6.2" fill="#4a4a4a" textLength="18" lengthAdjust="spacingAndGlyphs">LR21-2</text>
<rect x="170.2" y="33.85" width="2.9" height="2.9" fill="#3fae3a"/>
<text class="t" x="175.1" y="37.41" font-size="6.2" fill="#4a4a4a" textLength="18" lengthAdjust="spacingAndGlyphs">LR22-1</text>
<rect x="200.2" y="33.85" width="2.9" height="2.9" fill="#0e3b7e"/>
<text class="t" x="205.1" y="37.41" font-size="6.2" fill="#4a4a4a" textLength="18" lengthAdjust="spacingAndGlyphs">LR22-2</text>
<rect x="407" y="34.6" width="2.8" height="2.8" fill="#f47a22"/>
<text class="t" x="412.1" y="38.38" font-size="7" fill="#4a4a4a" textLength="21.6" lengthAdjust="spacingAndGlyphs">YR20-1</text>
<rect x="441" y="34.6" width="2.8" height="2.8" fill="#a5a5a5"/>
<text class="t" x="446.1" y="38.38" font-size="7" fill="#4a4a4a" textLength="21.6" lengthAdjust="spacingAndGlyphs">YR20-2</text>
<rect x="475" y="34.6" width="2.8" height="2.8" fill="#ffc000"/>
<text class="t" x="480.1" y="38.38" font-size="7" fill="#4a4a4a" textLength="21.6" lengthAdjust="spacingAndGlyphs">YR21-1</text>
<rect x="509" y="34.6" width="2.8" height="2.8" fill="#1766c6"/>
<text class="t" x="514.1" y="38.38" font-size="7" fill="#4a4a4a" textLength="21.6" lengthAdjust="spacingAndGlyphs">YR21-2</text>
<rect x="157.3" y="209.25" width="2.9" height="2.9" fill="#f47a22"/>
<text class="t" x="161.7" y="212.91" font-size="6.5" fill="#4a4a4a" textLength="31.5" lengthAdjust="spacingAndGlyphs">YRKEN21-1</text>
<rect x="202.1" y="209.25" width="2.9" height="2.9" fill="#a5a5a5"/>
<text class="t" x="206.5" y="212.91" font-size="6.5" fill="#4a4a4a" textLength="31.5" lengthAdjust="spacingAndGlyphs">YRKEN21-2</text>
<rect x="157.3" y="218.45" width="2.9" height="2.9" fill="#ffc000"/>
<text class="t" x="161.7" y="222.11" font-size="6.5" fill="#4a4a4a" textLength="31.5" lengthAdjust="spacingAndGlyphs">YRKEN21-3</text>
<rect x="202.1" y="218.45" width="2.9" height="2.9" fill="#1766c6"/>
<text class="t" x="206.5" y="222.11" font-size="6.5" fill="#4a4a4a" textLength="31.5" lengthAdjust="spacingAndGlyphs">YRKEN23-1</text>
<rect x="157.3" y="227.75" width="2.9" height="2.9" fill="#1e9be6"/>
<text class="t" x="161.7" y="231.41" font-size="6.5" fill="#4a4a4a" textLength="31.5" lengthAdjust="spacingAndGlyphs">YRKEN23-2</text>
<rect x="442.4" y="213.15" width="2.9" height="2.9" fill="#1766c6"/>
<text class="t" x="447.1" y="216.91" font-size="6.8" fill="#4a4a4a" textLength="18.8" lengthAdjust="spacingAndGlyphs">SR21-1</text>
<rect x="471.3" y="213.15" width="2.9" height="2.9" fill="#f47a22"/>
<text class="t" x="476" y="216.91" font-size="6.8" fill="#4a4a4a" textLength="18.8" lengthAdjust="spacingAndGlyphs">SR21-2</text>
<rect x="499.9" y="213.15" width="2.9" height="2.9" fill="#a5a5a5"/>
<text class="t" x="504.6" y="216.91" font-size="6.8" fill="#4a4a4a" textLength="18.8" lengthAdjust="spacingAndGlyphs">SR21-3</text>
<rect x="442.4" y="227.85" width="2.9" height="2.9" fill="#ffc000"/>
<text class="t" x="447.1" y="231.61" font-size="6.8" fill="#4a4a4a" textLength="18.8" lengthAdjust="spacingAndGlyphs">SR23-1</text>
<rect x="471.3" y="227.85" width="2.9" height="2.9" fill="#1e9be6"/>
<text class="t" x="476" y="231.61" font-size="6.8" fill="#4a4a4a" textLength="18.8" lengthAdjust="spacingAndGlyphs">SR23-2</text>
<text class="t" x="142.7" y="162.9" font-size="6.3" font-weight="normal" text-anchor="middle" fill="#4a4a4a" textLength="64.4" lengthAdjust="spacingAndGlyphs">DISEASE SCORE (0-100)</text>
<text class="t" x="422.6" y="166.8" font-size="7" font-weight="normal" text-anchor="middle" fill="#4a4a4a" textLength="74" lengthAdjust="spacingAndGlyphs">DISEASE SCORE (0-100)</text>
<text class="t" x="137.9" y="341.4" font-size="6.3" font-weight="normal" text-anchor="middle" fill="#4a4a4a" textLength="64.2" lengthAdjust="spacingAndGlyphs">DISEASE SCORE (0-100)</text>
<text class="t" x="425.2" y="347.6" font-size="6.6" font-weight="normal" text-anchor="middle" fill="#4a4a4a" textLength="68.6" lengthAdjust="spacingAndGlyphs">DISEASE SCORE (0-100)</text>
<text class="t" transform="translate(13.75 86) rotate(-90)" x="0" y="2.04" font-size="6" text-anchor="middle" fill="#4a4a4a" textLength="38" lengthAdjust="spacingAndGlyphs">NO. OF LINES</text>
<text class="t" transform="translate(295.3 74.6) rotate(-90)" x="0" y="2.04" font-size="6" text-anchor="middle" fill="#4a4a4a" textLength="37.5" lengthAdjust="spacingAndGlyphs">NO. OF LINES</text>
<text class="t" transform="translate(14.75 253.9) rotate(-90)" x="0" y="2.04" font-size="6" text-anchor="middle" fill="#4a4a4a" textLength="37.2" lengthAdjust="spacingAndGlyphs">NO. OF LINES</text>
<text class="t" transform="translate(294.4 256.4) rotate(-90)" x="0" y="2.04" font-size="6" text-anchor="middle" fill="#4a4a4a" textLength="37.8" lengthAdjust="spacingAndGlyphs">NO. OF LINES</text>
<text x="33.6" y="32.5" font-size="8.5" font-weight="bold" text-anchor="start" fill="#000" textLength="28.2" lengthAdjust="spacingAndGlyphs">Kasuku</text>
<text x="195.8" y="101.9" font-size="8" font-weight="bold" text-anchor="start" fill="#000" textLength="19" lengthAdjust="spacingAndGlyphs">Apav</text>
<text x="313" y="40" font-size="8.5" font-weight="bold" text-anchor="start" fill="#000" textLength="28.3" lengthAdjust="spacingAndGlyphs">Kasuku</text>
<text x="473.3" y="111.3" font-size="8.3" font-weight="bold" text-anchor="start" fill="#000" textLength="19.3" lengthAdjust="spacingAndGlyphs">Apav</text>
<text x="52.2" y="212.1" font-size="8.5" font-weight="bold" text-anchor="start" fill="#000" textLength="28.7" lengthAdjust="spacingAndGlyphs">Kasuku</text>
<text x="196.9" y="280" font-size="8.3" font-weight="bold" text-anchor="start" fill="#000" textLength="18.7" lengthAdjust="spacingAndGlyphs">Apav</text>
<text x="320.6" y="263.8" font-size="8.5" font-weight="bold" text-anchor="start" fill="#000" textLength="28.1" lengthAdjust="spacingAndGlyphs">Kasuku</text>
<text x="473.3" y="294.7" font-size="8.3" font-weight="bold" text-anchor="start" fill="#000" textLength="19.4" lengthAdjust="spacingAndGlyphs">Apav</text>
<line x1="38.7" y1="36.5" x2="38.7" y2="69.7" stroke="#ffbb00" stroke-width="1"/>
<path d="M36.5 69.2L40.9 69.2L38.7 73.7Z" fill="#ffbb00"/>
<line x1="200.2" y1="104.2" x2="200.2" y2="129.2" stroke="#ffbb00" stroke-width="1"/>
<path d="M198 128.7L202.4 128.7L200.2 133.2Z" fill="#ffbb00"/>
<line x1="319.2" y1="43.7" x2="319.2" y2="51" stroke="#ffbb00" stroke-width="1"/>
<path d="M317 50.5L321.4 50.5L319.2 55Z" fill="#ffbb00"/>
<line x1="480.8" y1="116.3" x2="480.8" y2="133.5" stroke="#ffbb00" stroke-width="1"/>
<path d="M478.6 133L483 133L480.8 137.5Z" fill="#ffbb00"/>
<line x1="61.4" y1="216.3" x2="61.4" y2="250.7" stroke="#ffbb00" stroke-width="1"/>
<path d="M59.2 250.2L63.6 250.2L61.4 254.7Z" fill="#ffbb00"/>
<line x1="204.2" y1="285" x2="204.2" y2="302.5" stroke="#ffbb00" stroke-width="1"/>
<path d="M202 302L206.4 302L204.2 306.5Z" fill="#ffbb00"/>
<line x1="331.2" y1="269" x2="331.2" y2="317.2" stroke="#ffbb00" stroke-width="1"/>
<path d="M329 316.7L333.4 316.7L331.2 321.2Z" fill="#ffbb00"/>
<line x1="483.3" y1="299.9" x2="483.3" y2="317.5" stroke="#ffbb00" stroke-width="1"/>
<path d="M481.1 317L485.5 317L483.3 321.5Z" fill="#ffbb00"/>
<text x="9.55" y="167.4" font-size="16.7" font-weight="bold" text-anchor="start" fill="#000">a</text>
<text x="17.9" y="165.9" font-size="14.9" font-weight="bold" text-anchor="start" fill="#000">)</text>
<text x="289.9" y="167.4" font-size="16.3" font-weight="bold" text-anchor="start" fill="#000">b</text>
<text x="299" y="165.9" font-size="14.9" font-weight="bold" text-anchor="start" fill="#000">)</text>
<text x="8.3" y="343.1" font-size="17" font-weight="bold" text-anchor="start" fill="#000">c</text>
<text x="15.6" y="341.2" font-size="15.3" font-weight="bold" text-anchor="start" fill="#000">)</text>
<text x="288.6" y="344.5" font-size="15.9" font-weight="bold" text-anchor="start" fill="#000">d</text>
<text x="297.6" y="343.4" font-size="16" font-weight="bold" text-anchor="start" fill="#000">)</text>
</svg>
</body></html>
